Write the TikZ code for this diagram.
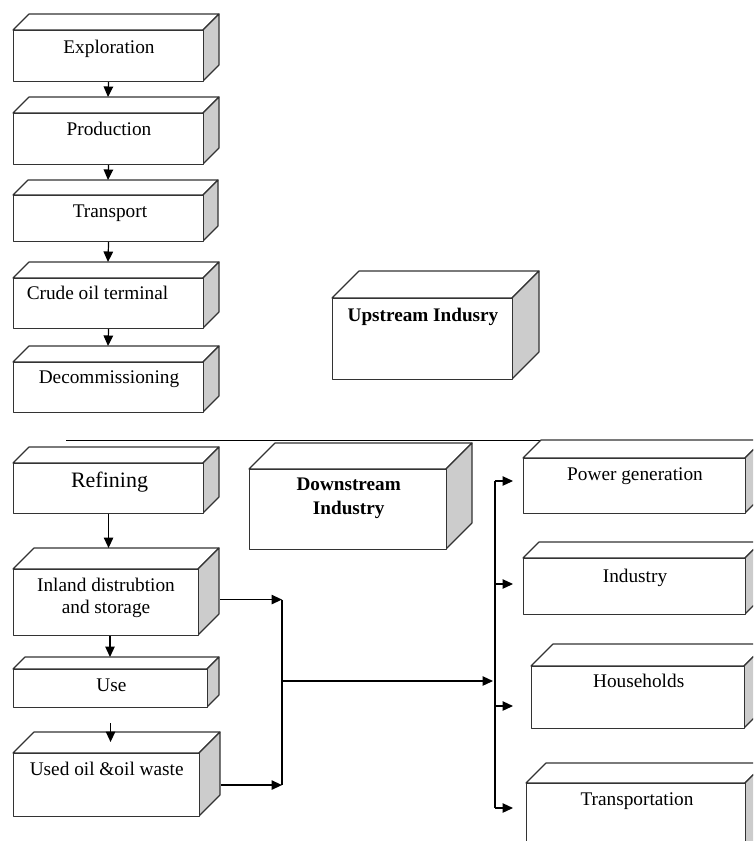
\documentclass[tikz,border=0pt]{standalone}
\usepackage{fontspec}
\setmainfont{Liberation Serif}
\usetikzlibrary{arrows.meta,calc}
\tikzset{
 face/.style={draw=black!80, line width=1.1pt, line join=round},
 topface/.style={face, fill=white},
 sideface/.style={face, fill=black!20},
 frontbox/.style={face, fill=white, inner sep=0pt, anchor=north west},
 lbl/.style={anchor=base, font=\fontsize{19.3}{22}\selectfont, align=center, inner sep=0pt},
 biglbl/.style={lbl, font=\fontsize{22}{25}\selectfont},
 boldlbl/.style={lbl, font=\bfseries\fontsize{19.2}{24}\selectfont},
 conn/.style={draw=black, line width=1.2pt},
 arr/.style={conn, -{Triangle[length=10.5pt,width=9.5pt]}},
}
% name, left, top, right, bottom, depth (pixel units, y downwards)
\newcommand\mycube[6]{%
 \path[topface] (#2,#3) -- ({#2+#6},{#3-#6}) -- ({#4+#6},{#3-#6}) -- (#4,#3) -- cycle;
 \path[sideface] (#4,#3) -- ({#4+#6},{#3-#6}) -- ({#4+#6},{#5-#6}) -- (#4,#5) -- cycle;
 \node[frontbox, minimum width={(#4-#2)*1pt}, minimum height={(#5-#3)*1pt}] (#1) at (#2,#3) {};
 \coordinate (#1-in) at ({(#2+#4)/2},{#3-#6});
}
\begin{document}
\begin{tikzpicture}[x=1pt,y=-1pt]
\useasboundingbox (0,0) rectangle (753,841);
\clip (0,0) rectangle (753,841);
\fill[white] (0,0) rectangle (753,841);

% upstream chain
\mycube{expl}{13}{30}{203}{81}{16}
\mycube{prod}{13}{113}{203}{164}{16}
\mycube{trans}{13}{195}{203}{241}{15}
\mycube{crude}{13}{278}{203}{328}{16}
\mycube{decom}{13}{362}{203}{412}{16}
\mycube{up}{332}{298}{512}{379}{27}

% separator
\draw[conn, line width=1pt] (66,440) -- (540,440);

% downstream
\mycube{refin}{13}{463}{203}{513}{16}
\mycube{inland}{13}{569}{198}{635}{21}
\mycube{use}{13}{669}{207}{707}{12}
\mycube{usedoil}{13}{753}{199}{816}{21}
\mycube{down}{249}{469}{446}{549}{26}
\mycube{pg}{523}{458}{745}{513}{18}
\mycube{ind}{523}{558}{745}{614}{16}
\mycube{hh}{531}{666}{744}{728}{22}
\mycube{tr}{526}{783}{745}{870}{20}

% labels
\node[lbl] (expl-t) at (109,53) {Exploration};
\node[lbl] (prod-t) at (109,135) {Production};
\node[lbl] (trans-t) at (110,217) {Transport};
\node[lbl] (crude-t) at (97.5,299) {Crude oil terminal};
\node[lbl] (decom-t) at (109,383) {Decommissioning};
\node[boldlbl] (up-t) at (423,321) {Upstream Indusry};
\node[biglbl] (refin-t) at (109.5,487) {Refining};
\node[lbl] (inland-t) at (106,613) {Inland distrubtion\\and storage};
\node[lbl] (use-t) at (111.5,691) {Use};
\node[lbl] (usedoil-t) at (106.7,775) {Used oil \&oil waste};
\node[boldlbl] (down-t) at (348.7,514) {Downstream\\Industry};
\node[lbl] (pg-t) at (635,480) {Power generation};
\node[lbl] (ind-t) at (635,582) {Industry};
\node[lbl] (hh-t) at (638.7,687) {Households};
\node[lbl] (tr-t) at (637,805) {Transportation};

% vertical arrows
\draw[arr] (expl.south) -- (prod-in);
\draw[arr] (prod.south) -- (trans-in);
\draw[arr] (trans.south) -- (crude-in);
\draw[arr] (crude.south) -- (decom-in);
\draw[arr] (refin.south) -- (refin.south |- inland-in);
\draw[arr] (use-in |- inland.south) -- (use-in);
\draw[arr, shorten <=15pt] (use.south) -- ($(use.south |- usedoil.north)+(0,-11)$);

% buses
\coordinate (busL) at (282,681);
\coordinate (busR) at (495,681);
\coordinate (pgin) at (513,481);
\coordinate (indin) at (513,584);
\coordinate (hhin) at (513,706);
\coordinate (trin) at (513,808);

\draw[arr] ([xshift=21pt,yshift=3pt]inland.east) -- ([yshift=3pt]busL |- inland.east);
\draw[arr] ([xshift=21pt]usedoil.east) -- (busL |- usedoil.east);
\draw[conn] ([yshift=3pt]busL |- inland.east) -- (busL |- usedoil.east);
\draw[arr] (busL) -- ([xshift=-2pt]busR);
\draw[conn] (busR |- pgin) -- (busR |- trin);
\draw[arr] (busR |- pgin) -- (pgin);
\draw[arr] (busR |- indin) -- (indin);
\draw[arr] (busR |- hhin) -- (hhin);
\draw[arr] (busR |- trin) -- (trin);
\end{tikzpicture}
\end{document}
